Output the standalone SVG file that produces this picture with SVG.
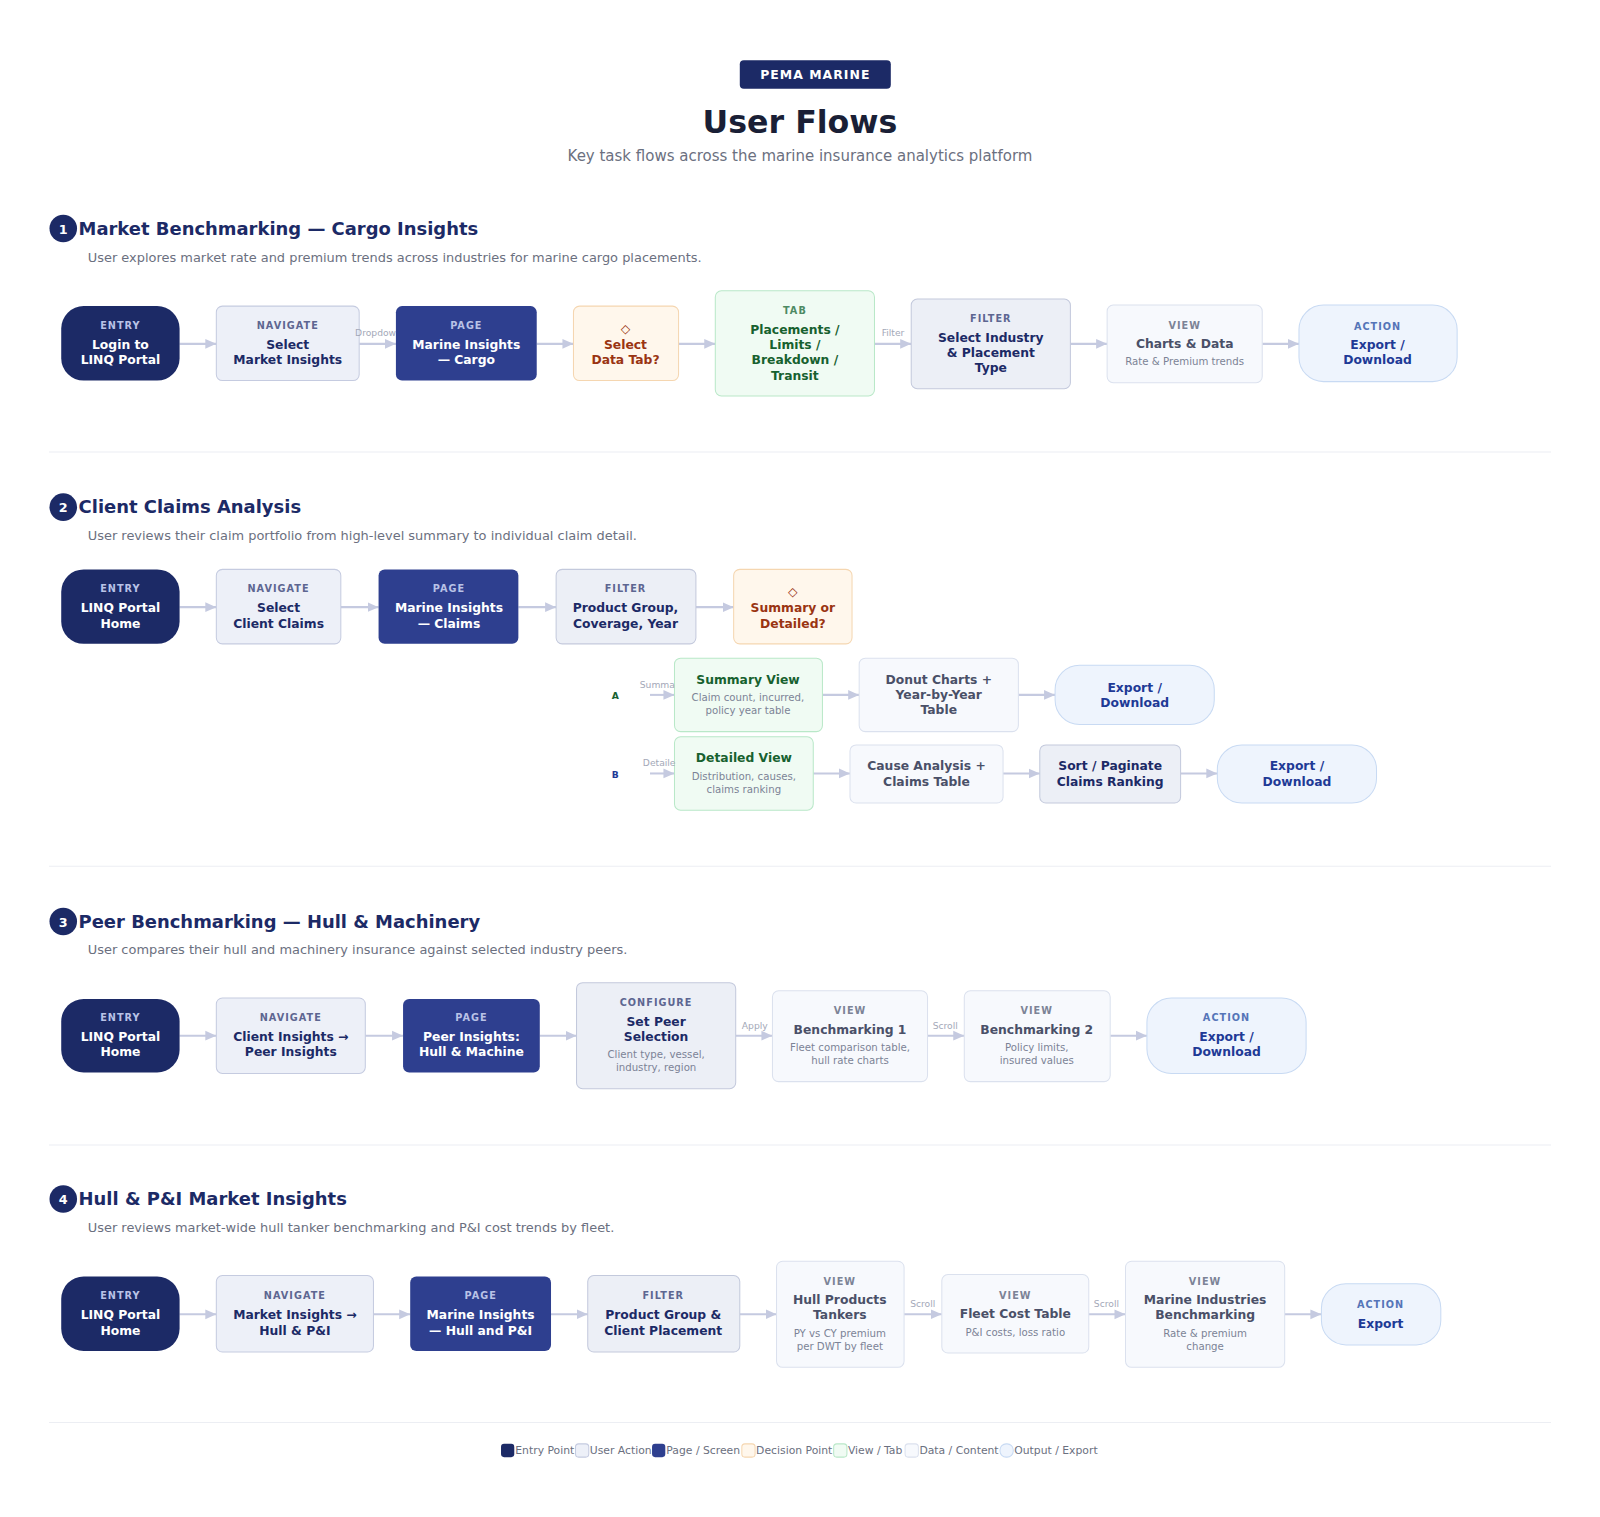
<svg xmlns="http://www.w3.org/2000/svg" width="1600" height="1517" viewBox="0 0 1600 1517">
<defs>
<marker id="ah" viewBox="0 0 10 10" refX="9" refY="5" markerWidth="6" markerHeight="6" orient="auto"><path d="M0,1 L9,5 L0,9 z" fill="#c5cae0"/></marker>
<style>
text{font-family:"DejaVu Sans","Noto Sans",sans-serif}
.entry{fill:#1c2a66}
.page{fill:#2e3f8f}
.nav{fill:#edf0f8;stroke:#c5cbe0}
.dec{fill:#fff7ec;stroke:#f5d6b0}
.tab{fill:#f0fbf3;stroke:#b9e8c8}
.flt{fill:#eceff6;stroke:#c3c9dc}
.view{fill:#f7f9fd;stroke:#dbe1ee}
.act{fill:#eef4fd;stroke:#c8daf3}
.k{font-size:9.5px;font-weight:bold;letter-spacing:1px;text-anchor:middle}
.m{font-size:12.1px;font-weight:bold;text-anchor:middle}
.s{font-size:10px;text-anchor:middle;fill:#7c8396}
.lw{fill:#fff}.kw{fill:#b9c2e6}
.ln{fill:#1c2a66}.kn{fill:#5d6691}
.ld{fill:#9a3412}
.lt{fill:#17612f}.kt{fill:#4d8a63}
.lv{fill:#4a5068}.kv{fill:#7c8396}
.la{fill:#1e3a96}.ka{fill:#5575b8}
.el{font-size:9px;fill:#a3a8b8}
.conn line{stroke:#c5cae0;stroke-width:2;marker-end:url(#ah)}
.st{font-size:17.6px;font-weight:bold;fill:#1c2a66}
.sd{font-size:12.7px;fill:#6b7080}
.lg{font-size:10.6px;fill:#6b7080}
.div{stroke:#eceef3;stroke-width:1}
</style>
</defs>
<rect width="1600" height="1517" fill="#fff"/>
<g transform="scale(1.0204)">
<g id="header">
<rect x="725" y="59" width="148" height="28" rx="4" fill="#1c2a66"/>
<text x="799" y="77.5" font-size="12.2" font-weight="bold" fill="#fff" text-anchor="middle" letter-spacing="1">PEMA MARINE</text>
<text x="784" y="130" font-size="31" font-weight="bold" fill="#1a1f36" text-anchor="middle">User Flows</text>
<text x="784" y="158" font-size="14.7" fill="#6b7080" text-anchor="middle">Key task flows across the marine insurance analytics platform</text>
</g>
<g id="dividers">
<line class="div" x1="48" y1="443" x2="1520" y2="443"/>
<line class="div" x1="48" y1="849" x2="1520" y2="849"/>
<line class="div" x1="48" y1="1122" x2="1520" y2="1122"/>
<line class="div" x1="48" y1="1394" x2="1520" y2="1394"/>
</g>
<g id="sec-headers">
<circle cx="62" cy="224" r="13.5" fill="#1c2a66"/><text x="62" y="229" font-size="12.5" font-weight="bold" fill="#fff" text-anchor="middle">1</text>
<text class="st" x="77" y="230">Market Benchmarking — Cargo Insights</text>
<text class="sd" x="86" y="257">User explores market rate and premium trends across industries for marine cargo placements.</text>
<circle cx="62" cy="497" r="13.5" fill="#1c2a66"/><text x="62" y="502" font-size="12.5" font-weight="bold" fill="#fff" text-anchor="middle">2</text>
<text class="st" x="77" y="503">Client Claims Analysis</text>
<text class="sd" x="86" y="529">User reviews their claim portfolio from high-level summary to individual claim detail.</text>
<circle cx="62" cy="903" r="13.5" fill="#1c2a66"/><text x="62" y="908" font-size="12.5" font-weight="bold" fill="#fff" text-anchor="middle">3</text>
<text class="st" x="77" y="909">Peer Benchmarking — Hull &amp; Machinery</text>
<text class="sd" x="86" y="935">User compares their hull and machinery insurance against selected industry peers.</text>
<circle cx="62" cy="1175" r="13.5" fill="#1c2a66"/><text x="62" y="1180" font-size="12.5" font-weight="bold" fill="#fff" text-anchor="middle">4</text>
<text class="st" x="77" y="1181">Hull &amp; P&amp;I Market Insights</text>
<text class="sd" x="86" y="1207">User reviews market-wide hull tanker benchmarking and P&amp;I cost trends by fleet.</text>
</g>
<g id="connectors" class="conn">
<line x1="176" y1="337" x2="212" y2="337"/><line x1="352" y1="337" x2="388" y2="337"/><line x1="526" y1="337" x2="562" y2="337"/><line x1="665" y1="337" x2="701" y2="337"/><line x1="857" y1="337" x2="893" y2="337"/><line x1="1049" y1="337" x2="1085" y2="337"/><line x1="1237" y1="337" x2="1273" y2="337"/>
<line x1="176" y1="595" x2="212" y2="595"/><line x1="334" y1="595" x2="371" y2="595"/><line x1="508" y1="595" x2="545" y2="595"/><line x1="682" y1="595" x2="719" y2="595"/>
<line x1="637" y1="681" x2="661" y2="681"/><line x1="806" y1="681" x2="842" y2="681"/><line x1="998" y1="681" x2="1034" y2="681"/>
<line x1="637" y1="758" x2="661" y2="758"/><line x1="797" y1="758" x2="833" y2="758"/><line x1="983" y1="758" x2="1019" y2="758"/><line x1="1157" y1="758" x2="1193" y2="758"/>
<line x1="176" y1="1015" x2="212" y2="1015"/><line x1="358" y1="1015" x2="395" y2="1015"/><line x1="529" y1="1015" x2="565" y2="1015"/><line x1="721" y1="1015" x2="757" y2="1015"/><line x1="909" y1="1015" x2="945" y2="1015"/><line x1="1088" y1="1015" x2="1124" y2="1015"/>
<line x1="176" y1="1288" x2="212" y2="1288"/><line x1="366" y1="1288" x2="402" y2="1288"/><line x1="540" y1="1288" x2="576" y2="1288"/><line x1="725" y1="1288" x2="761" y2="1288"/><line x1="886" y1="1288" x2="923" y2="1288"/><line x1="1067" y1="1288" x2="1103" y2="1288"/><line x1="1259" y1="1288" x2="1295" y2="1288"/>
</g>
<!-- Section 1 -->
<g id="n1-1"><rect class="entry" x="60" y="300" width="116" height="73" rx="22"/><text class="k kw" x="118" y="322">ENTRY</text><text class="m lw" x="118" y="342">Login to</text><text class="m lw" x="118" y="357">LINQ Portal</text></g>
<g id="n1-2"><rect class="nav" x="212" y="300" width="140" height="73" rx="6"/><text class="k kn" x="282" y="322">NAVIGATE</text><text class="m ln" x="282" y="342">Select</text><text class="m ln" x="282" y="357">Market Insights</text></g>
<g id="n1-3"><rect class="page" x="388" y="300" width="138" height="73" rx="6"/><text class="k kw" x="457" y="322">PAGE</text><text class="m lw" x="457" y="342">Marine Insights</text><text class="m lw" x="457" y="357">— Cargo</text></g>
<g id="n1-4"><rect class="dec" x="562" y="300" width="103" height="73" rx="6"/><text class="m ld" x="613" y="326" font-weight="normal">◇</text><text class="m ld" x="613" y="342">Select</text><text class="m ld" x="613" y="357">Data Tab?</text></g>
<g id="n1-5"><rect class="tab" x="701" y="285" width="156" height="103" rx="6"/><text class="k kt" x="779" y="308">TAB</text><text class="m lt" x="779" y="327">Placements /</text><text class="m lt" x="779" y="342">Limits /</text><text class="m lt" x="779" y="357">Breakdown /</text><text class="m lt" x="779" y="372">Transit</text></g>
<g id="n1-6"><rect class="flt" x="893" y="293" width="156" height="88" rx="6"/><text class="k kn" x="971" y="316">FILTER</text><text class="m ln" x="971" y="335">Select Industry</text><text class="m ln" x="971" y="350">&amp; Placement</text><text class="m ln" x="971" y="365">Type</text></g>
<g id="n1-7"><rect class="view" x="1085" y="299" width="152" height="76" rx="6"/><text class="k kv" x="1161" y="322">VIEW</text><text class="m lv" x="1161" y="341">Charts &amp; Data</text><text class="s" x="1161" y="358">Rate &amp; Premium trends</text></g>
<g id="n1-8"><rect class="act" x="1273" y="299" width="155" height="75" rx="24"/><text class="k ka" x="1350" y="323">ACTION</text><text class="m la" x="1350" y="342">Export /</text><text class="m la" x="1350" y="357">Download</text></g>
<!-- Section 2 -->
<g id="n2-1"><rect class="entry" x="60" y="558" width="116" height="73" rx="22"/><text class="k kw" x="118" y="580">ENTRY</text><text class="m lw" x="118" y="600">LINQ Portal</text><text class="m lw" x="118" y="615">Home</text></g>
<g id="n2-2"><rect class="nav" x="212" y="558" width="122" height="73" rx="6"/><text class="k kn" x="273" y="580">NAVIGATE</text><text class="m ln" x="273" y="600">Select</text><text class="m ln" x="273" y="615">Client Claims</text></g>
<g id="n2-3"><rect class="page" x="371" y="558" width="137" height="73" rx="6"/><text class="k kw" x="440" y="580">PAGE</text><text class="m lw" x="440" y="600">Marine Insights</text><text class="m lw" x="440" y="615">— Claims</text></g>
<g id="n2-4"><rect class="flt" x="545" y="558" width="137" height="73" rx="6"/><text class="k kn" x="613" y="580">FILTER</text><text class="m ln" x="613" y="600">Product Group,</text><text class="m ln" x="613" y="615">Coverage, Year</text></g>
<g id="n2-5"><rect class="dec" x="719" y="558" width="116" height="73" rx="6"/><text class="m ld" x="777" y="584" font-weight="normal">◇</text><text class="m ld" x="777" y="600">Summary or</text><text class="m ld" x="777" y="615">Detailed?</text></g>
<text x="603" y="685" font-size="9" font-weight="bold" fill="#17612f" text-anchor="middle">A</text>
<text x="603" y="762" font-size="9" font-weight="bold" fill="#1e3a96" text-anchor="middle">B</text>
<g id="n2-a1"><rect class="tab" x="661" y="645" width="145" height="72" rx="6"/><text class="m lt" x="733" y="670">Summary View</text><text class="s" x="733" y="687">Claim count, incurred,</text><text class="s" x="733" y="700">policy year table</text></g>
<g id="n2-a2"><rect class="view" x="842" y="645" width="156" height="72" rx="6"/><text class="m lv" x="920" y="670">Donut Charts +</text><text class="m lv" x="920" y="685">Year-by-Year</text><text class="m lv" x="920" y="700">Table</text></g>
<g id="n2-a3"><rect class="act" x="1034" y="652" width="156" height="58" rx="24"/><text class="m la" x="1112" y="678">Export /</text><text class="m la" x="1112" y="693">Download</text></g>
<g id="n2-b1"><rect class="tab" x="661" y="722" width="136" height="72" rx="6"/><text class="m lt" x="729" y="747">Detailed View</text><text class="s" x="729" y="764">Distribution, causes,</text><text class="s" x="729" y="777">claims ranking</text></g>
<g id="n2-b2"><rect class="view" x="833" y="730" width="150" height="57" rx="6"/><text class="m lv" x="908" y="755">Cause Analysis +</text><text class="m lv" x="908" y="770">Claims Table</text></g>
<g id="n2-b3"><rect class="flt" x="1019" y="730" width="138" height="57" rx="6"/><text class="m ln" x="1088" y="755">Sort / Paginate</text><text class="m ln" x="1088" y="770">Claims Ranking</text></g>
<g id="n2-b4"><rect class="act" x="1193" y="730" width="156" height="57" rx="24"/><text class="m la" x="1271" y="755">Export /</text><text class="m la" x="1271" y="770">Download</text></g>
<!-- Section 3 -->
<g id="n3-1"><rect class="entry" x="60" y="979" width="116" height="72" rx="22"/><text class="k kw" x="118" y="1001">ENTRY</text><text class="m lw" x="118" y="1020">LINQ Portal</text><text class="m lw" x="118" y="1035">Home</text></g>
<g id="n3-2"><rect class="nav" x="212" y="978" width="146" height="74" rx="6"/><text class="k kn" x="285" y="1001">NAVIGATE</text><text class="m ln" x="285" y="1020">Client Insights →</text><text class="m ln" x="285" y="1035">Peer Insights</text></g>
<g id="n3-3"><rect class="page" x="395" y="979" width="134" height="72" rx="6"/><text class="k kw" x="462" y="1001">PAGE</text><text class="m lw" x="462" y="1020">Peer Insights:</text><text class="m lw" x="462" y="1035">Hull &amp; Machine</text></g>
<g id="n3-4"><rect class="flt" x="565" y="963" width="156" height="104" rx="6"/><text class="k kn" x="643" y="986">CONFIGURE</text><text class="m ln" x="643" y="1005">Set Peer</text><text class="m ln" x="643" y="1020">Selection</text><text class="s" x="643" y="1037">Client type, vessel,</text><text class="s" x="643" y="1050">industry, region</text></g>
<g id="n3-5"><rect class="view" x="757" y="971" width="152" height="89" rx="6"/><text class="k kv" x="833" y="994">VIEW</text><text class="m lv" x="833" y="1013">Benchmarking 1</text><text class="s" x="833" y="1030">Fleet comparison table,</text><text class="s" x="833" y="1043">hull rate charts</text></g>
<g id="n3-6"><rect class="view" x="945" y="971" width="143" height="89" rx="6"/><text class="k kv" x="1016" y="994">VIEW</text><text class="m lv" x="1016" y="1013">Benchmarking 2</text><text class="s" x="1016" y="1030">Policy limits,</text><text class="s" x="1016" y="1043">insured values</text></g>
<g id="n3-7"><rect class="act" x="1124" y="978" width="156" height="74" rx="24"/><text class="k ka" x="1202" y="1001">ACTION</text><text class="m la" x="1202" y="1020">Export /</text><text class="m la" x="1202" y="1035">Download</text></g>
<!-- Section 4 -->
<g id="n4-1"><rect class="entry" x="60" y="1251" width="116" height="73" rx="22"/><text class="k kw" x="118" y="1273">ENTRY</text><text class="m lw" x="118" y="1293">LINQ Portal</text><text class="m lw" x="118" y="1308">Home</text></g>
<g id="n4-2"><rect class="nav" x="212" y="1250" width="154" height="75" rx="6"/><text class="k kn" x="289" y="1273">NAVIGATE</text><text class="m ln" x="289" y="1293">Market Insights →</text><text class="m ln" x="289" y="1308">Hull &amp; P&amp;I</text></g>
<g id="n4-3"><rect class="page" x="402" y="1251" width="138" height="73" rx="6"/><text class="k kw" x="471" y="1273">PAGE</text><text class="m lw" x="471" y="1293">Marine Insights</text><text class="m lw" x="471" y="1308">— Hull and P&amp;I</text></g>
<g id="n4-4"><rect class="flt" x="576" y="1250" width="149" height="75" rx="6"/><text class="k kn" x="650" y="1273">FILTER</text><text class="m ln" x="650" y="1293">Product Group &amp;</text><text class="m ln" x="650" y="1308">Client Placement</text></g>
<g id="n4-5"><rect class="view" x="761" y="1236" width="125" height="104" rx="6"/><text class="k kv" x="823" y="1259">VIEW</text><text class="m lv" x="823" y="1278">Hull Products</text><text class="m lv" x="823" y="1293">Tankers</text><text class="s" x="823" y="1310">PY vs CY premium</text><text class="s" x="823" y="1323">per DWT by fleet</text></g>
<g id="n4-6"><rect class="view" x="923" y="1249" width="144" height="77" rx="6"/><text class="k kv" x="995" y="1273">VIEW</text><text class="m lv" x="995" y="1292">Fleet Cost Table</text><text class="s" x="995" y="1309">P&amp;I costs, loss ratio</text></g>
<g id="n4-7"><rect class="view" x="1103" y="1236" width="156" height="104" rx="6"/><text class="k kv" x="1181" y="1259">VIEW</text><text class="m lv" x="1181" y="1278">Marine Industries</text><text class="m lv" x="1181" y="1293">Benchmarking</text><text class="s" x="1181" y="1310">Rate &amp; premium</text><text class="s" x="1181" y="1323">change</text></g>
<g id="n4-8"><rect class="act" x="1295" y="1258" width="117" height="60" rx="24"/><text class="k ka" x="1353" y="1282">ACTION</text><text class="m la" x="1353" y="1301">Export</text></g>
<g id="edge-labels">
<text class="el" x="348" y="329">Dropdow</text>
<text class="el" x="864" y="329">Filter</text>
<text class="el" x="627" y="674">Summa</text>
<text class="el" x="630" y="751">Detaile</text>
<text class="el" x="727" y="1008">Apply</text>
<text class="el" x="914" y="1008">Scroll</text>
<text class="el" x="892" y="1281">Scroll</text>
<text class="el" x="1072" y="1281">Scroll</text>
</g>
<!-- Legend -->
<g id="legend">
<rect class="entry" x="491" y="1415" width="13" height="13" rx="3"/><text class="lg" x="505" y="1425">Entry Point</text>
<rect class="nav" x="564" y="1415" width="13" height="13" rx="3"/><text class="lg" x="578" y="1425">User Action</text>
<rect class="page" x="639" y="1415" width="13" height="13" rx="3"/><text class="lg" x="653" y="1425">Page / Screen</text>
<rect class="dec" x="727" y="1415" width="13" height="13" rx="3"/><text class="lg" x="741" y="1425">Decision Point</text>
<rect class="tab" x="817" y="1415" width="13" height="13" rx="3"/><text class="lg" x="831" y="1425">View / Tab</text>
<rect class="view" x="887" y="1415" width="13" height="13" rx="3"/><text class="lg" x="901" y="1425">Data / Content</text>
<rect class="act" x="980" y="1415" width="13" height="13" rx="6"/><text class="lg" x="994" y="1425">Output / Export</text>
</g>
</g>
</svg>
